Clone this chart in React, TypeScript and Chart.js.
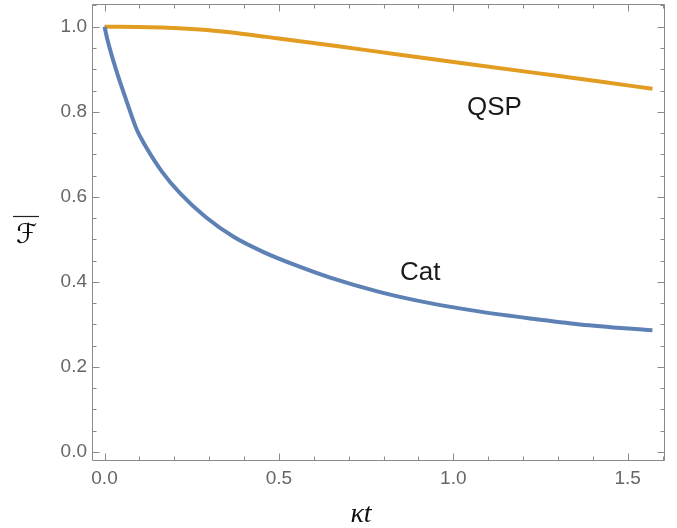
import React, { useEffect, useRef } from "react";
import { Chart, registerables } from "chart.js";

Chart.register(...registerables);

// ---- data ----
const catT = [0, 0.0086, 0.0335, 0.062, 0.093, 0.117, 0.164, 0.217, 0.289, 0.37, 0.456, 0.542, 0.647, 0.79, 0.933, 1.077, 1.22, 1.363, 1.5708];
const catF = [1.0, 0.969, 0.898, 0.828, 0.757, 0.72, 0.66, 0.608, 0.553, 0.506, 0.47, 0.441, 0.41, 0.376, 0.35, 0.33, 0.314, 0.3, 0.286];
const qspT = [0, 0.131, 0.198, 0.293, 0.398, 0.494, 0.67, 0.847, 1.038, 1.229, 1.42, 1.5708];
const qspF = [1.0, 0.999, 0.997, 0.992, 0.983, 0.973, 0.954, 0.934, 0.913, 0.892, 0.871, 0.854];

const seriesLabels = ["Cat", "QSP"];
const xMajorTicks = [0, 0.5, 1.0, 1.5];
const xMinorTicks = [0.1, 0.2, 0.3, 0.4, 0.6, 0.7, 0.8, 0.9, 1.1, 1.2, 1.3, 1.4, 1.6];
const yMajorTicks = [0, 0.2, 0.4, 0.6, 0.8, 1.0];
const yMinorTicks = [0.05, 0.1, 0.15, 0.25, 0.3, 0.35, 0.45, 0.5, 0.55, 0.65, 0.7, 0.75, 0.85, 0.9, 0.95, 1.05];
const xTitle = "κt";
const yTitle = "ℱ";

const FRAME = "#8a8a8a";
const LABEL = "#666666";
const SANS = '"Liberation Sans", Arial, sans-serif';

const framePlugin = {
  id: "mmaFrame",
  afterDraw(chart: any) {
    const { ctx, chartArea: a, scales } = chart;
    const xs = scales.x;
    const ys = scales.y;
    ctx.save();
    ctx.strokeStyle = FRAME;
    ctx.lineWidth = 1;
    const L = Math.round(a.left) - 0.5;
    const R = Math.round(a.right) + 0.5;
    const T = Math.round(a.top) + 0.5;
    const B = Math.round(a.bottom) - 0.5;
    ctx.beginPath();
    ctx.rect(L, T, R - L, B - T);
    ctx.stroke();
    const vt = (vals: number[], len: number) => {
      for (const v of vals) {
        const px = Math.round(xs.getPixelForValue(v)) + 0.5;
        ctx.moveTo(px, B);
        ctx.lineTo(px, B - len);
        ctx.moveTo(px, T);
        ctx.lineTo(px, T + len);
      }
    };
    const ht = (vals: number[], len: number) => {
      for (const v of vals) {
        const py = Math.round(ys.getPixelForValue(v)) + 0.5;
        ctx.moveTo(L, py);
        ctx.lineTo(L + len, py);
        ctx.moveTo(R, py);
        ctx.lineTo(R - len, py);
      }
    };
    ctx.beginPath();
    vt(xMajorTicks, 7);
    vt(xMinorTicks, 4);
    ht(yMajorTicks, 7);
    ht(yMinorTicks, 4);
    ctx.stroke();

    // curve labels
    ctx.fillStyle = "#1a1a1a";
    ctx.font = "26px " + SANS;
    ctx.textAlign = "left";
    ctx.textBaseline = "alphabetic";
    ctx.fillText(seriesLabels[1], xs.getPixelForValue(1.039), ys.getPixelForValue(0.792));
    ctx.fillText(seriesLabels[0], xs.getPixelForValue(0.847), ys.getPixelForValue(0.404));

    // x title
    ctx.fillStyle = "#111";
    ctx.font = 'italic 28px "Liberation Serif", "Times New Roman", serif';
    ctx.textAlign = "center";
    ctx.fillText(xTitle, 361, 522);

    // y title (upright, with overline)
    const cy = (a.top + a.bottom) / 2;
    ctx.font = '27px "DejaVu Sans", sans-serif';
    ctx.fillText(yTitle, 26.5, cy + 10);
    ctx.strokeStyle = "#222";
    ctx.lineWidth = 1.2;
    ctx.beginPath();
    ctx.moveTo(13, cy - 16);
    ctx.lineTo(39, cy - 16);
    ctx.stroke();
    ctx.restore();
  },
};

export default function App() {
  const ref = useRef<HTMLCanvasElement | null>(null);
  useEffect(() => {
    if (!ref.current) return;
    const chart = new Chart(ref.current, {
      type: "line",
      data: {
        datasets: [
          {
            label: seriesLabels[0],
            data: catT.map((t, i) => ({ x: t, y: catF[i] })),
            borderColor: "#5E81B5",
            borderWidth: 4,
            pointRadius: 0,
            cubicInterpolationMode: "monotone",
            fill: false,
          },
          {
            label: seriesLabels[1],
            data: qspT.map((t, i) => ({ x: t, y: qspF[i] })),
            borderColor: "#E39C22",
            borderWidth: 4,
            pointRadius: 0,
            cubicInterpolationMode: "monotone",
            fill: false,
          },
        ],
      },
      options: {
        responsive: false,
        animation: false,
        layout: { padding: { top: 4, right: 13, left: 0, bottom: 0 } },
        plugins: { legend: { display: false }, tooltip: { enabled: false }, title: { display: false } },
        scales: {
          x: {
            type: "linear",
            min: -0.033,
            max: 1.604,
            afterFit: (s: any) => {
              s.height = 67;
              s.paddingLeft = 0;
              s.paddingRight = 0;
            },
            afterBuildTicks: (s: any) => {
              s.ticks = xMajorTicks.map((v) => ({ value: v }));
            },
            grid: { display: false, drawTicks: false },
            border: { display: false },
            ticks: {
              padding: 6,
              color: LABEL,
              font: { family: SANS, size: 19 },
              maxRotation: 0,
              autoSkip: false,
              callback: (v: any) => Number(v).toFixed(1),
            },
          },
          y: {
            type: "linear",
            min: -0.0212,
            max: 1.0534,
            afterFit: (s: any) => {
              s.width = 93;
              s.paddingTop = 0;
              s.paddingBottom = 0;
            },
            afterBuildTicks: (s: any) => {
              s.ticks = yMajorTicks.map((v) => ({ value: v }));
            },
            grid: { display: false, drawTicks: false },
            border: { display: false },
            ticks: {
              padding: 6,
              color: LABEL,
              font: { family: SANS, size: 19 },
              autoSkip: false,
              callback: (v: any) => Number(v).toFixed(1),
            },
          },
        },
      },
      plugins: [framePlugin],
    });
    return () => chart.destroy();
  }, []);
  return (
    <div style={{ position: "absolute", left: 0, top: 0, width: 677, height: 528, background: "#fff" }}>
      <canvas ref={ref} width={677} height={528} style={{ display: "block" }} />
    </div>
  );
}
